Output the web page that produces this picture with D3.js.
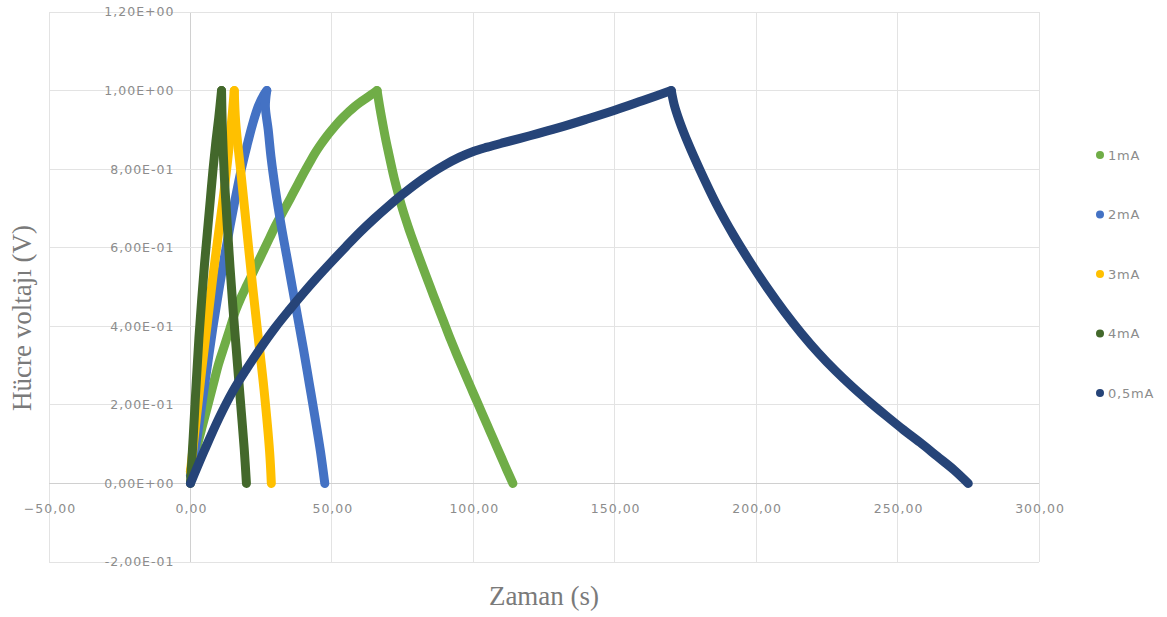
<!DOCTYPE html>
<html><head><meta charset="utf-8">
<script src="https://cdn.jsdelivr.net/npm/d3@7"></script>
<style>
html,body{margin:0;padding:0;background:#fff;}
svg{display:block;}
</style></head>
<body>
<svg id="chart" width="1167" height="617"></svg>
<script>
// ---- data ----
const seriesNames = ["1mA", "2mA", "3mA", "4mA", "0,5mA"];
const seriesColors = ["#70AD47", "#4472C4", "#FFC000", "#43682B", "#264478"];

const data1mA = [[0,0.03],[2,0.085],[4,0.14],[6,0.195],[8,0.25],[10,0.305],[12,0.35],[14,0.395],[16,0.44],[18,0.475],[20,0.505],[22,0.535],[24,0.565],[26,0.595],[28,0.625],[30,0.655],[32,0.682],[34,0.708],[36,0.735],[38,0.762],[40,0.789],[42,0.815],[44,0.84],[46,0.862],[48,0.882],[50,0.9],[52,0.917],[54,0.932],[56,0.946],[58,0.959],[60,0.97],[62,0.98],[64,0.99],[66,1.0],
  [67,0.955],[68,0.915],[69,0.877],[70,0.843],[71,0.81],[72,0.778],[73,0.75],[74,0.723],[75,0.698],[76,0.675],[77,0.653],[78,0.632],[80,0.592],[82,0.553],[84,0.515],[86,0.477],[88,0.44],[90,0.403],[92,0.366],[94,0.331],[96,0.297],[98,0.263],[100,0.23],[102,0.197],[104,0.164],[106,0.131],[108,0.098],[110,0.065],[112,0.032],[114,0.0]];
const data2mA = [[0,0.02],[2,0.1],[4,0.2],[6,0.3],[8,0.4],[10,0.49],[12,0.575],[14,0.655],[16,0.73],[18,0.8],[20,0.86],[22,0.915],[24,0.96],[26,0.99],[27,1.0],
  [26.5,0.96],[27.5,0.9],[28.5,0.83],[30,0.75],[32,0.66],[34,0.58],[36,0.5],[38,0.42],[40,0.34],[42,0.255],[44,0.17],[46,0.08],[47.5,0.0]];
const data3mA = [[0,0.03],[2,0.16],[4,0.29],[6,0.41],[8,0.53],[10,0.64],[12,0.75],[14,0.88],[15.5,1.0],
  [16,0.92],[18,0.78],[20,0.64],[22,0.5],[24,0.37],[26,0.24],[28,0.08],[28.6,0.0]];
const data4mA = [[0,0.0],[1,0.12],[2,0.25],[3,0.37],[4,0.47],[5,0.56],[6,0.64],[7,0.72],[8,0.8],[9,0.87],[10,0.93],[11,1.0],
  [11.3,0.9],[12,0.78],[13,0.66],[14,0.55],[15,0.45],[16,0.36],[17,0.27],[18,0.18],[19,0.09],[19.8,0.0]];
const data05mA = [[0,0.0],[5,0.085],[10,0.165],[15,0.235],[20,0.293],[25,0.347],[30,0.397],[35,0.442],[40,0.485],[45,0.526],[50,0.565],[55,0.603],[60,0.64],[65,0.674],[70,0.706],[75,0.736],[80,0.764],[85,0.789],[90,0.811],[95,0.83],[100,0.845],[105,0.856],[110,0.866],[120,0.885],[130,0.905],[140,0.927],[150,0.95],[160,0.975],[170,1.0],
  [171,0.965],[173,0.92],[176,0.865],[180,0.8],[186,0.71],[192,0.632],[198,0.562],[204,0.497],[210,0.437],[216,0.382],[222,0.332],[228,0.287],[234,0.246],[240,0.208],[246,0.172],[252,0.137],[258,0.104],[264,0.069],[270,0.034],[275,0.0]];
const seriesData = [data1mA, data2mA, data3mA, data4mA, data05mA];

const xTicks = [-50, 0, 50, 100, 150, 200, 250, 300];
const yTicks = [-0.2, 0, 0.2, 0.4, 0.6, 0.8, 1.0, 1.2];
const xTitle = "Zaman (s)";
const yTitle = "Hücre voltajı (V)";

// ---- layout ----
const svg = d3.select("#chart");
const x = d3.scaleLinear().domain([-50, 300]).range([49, 1039]);
const y = d3.scaleLinear().domain([-0.2, 1.2]).range([562, 12]);

const fmtX = v => d3.format(".2f")(v).replace(".", ",");
const fmtY = v => {
  let s = (Math.abs(v) < 1e-12 ? 0 : v).toExponential(2);
  let [m, e] = s.split("e");
  const sign = e[0] === "-" ? "-" : "+";
  let digits = e.replace(/[+-]/, "");
  if (digits.length < 2) digits = "0" + digits;
  return m.replace(".", ",") + "E" + sign + digits;
};

// gridlines
const grid = svg.append("g");
grid.selectAll("line.v").data(xTicks).join("line")
  .attr("x1", d => x(d)).attr("x2", d => x(d))
  .attr("y1", y(1.2)).attr("y2", y(-0.2))
  .attr("stroke", d => d === 0 ? "#d0d0d0" : "#e3e3e3").attr("stroke-width", 1)
  .attr("shape-rendering", "crispEdges");
grid.selectAll("line.h").data(yTicks).join("line")
  .attr("x1", x(-50)).attr("x2", x(300))
  .attr("y1", d => y(d)).attr("y2", d => y(d))
  .attr("stroke", d => d === 0 ? "#d0d0d0" : "#e3e3e3").attr("stroke-width", 1)
  .attr("shape-rendering", "crispEdges");

// tick labels
const tickFont = "'DejaVu Sans', sans-serif";
svg.append("g").selectAll("text").data(yTicks).join("text")
  .attr("x", x(0) - 16).attr("y", d => y(d)).attr("dy", "0.35em")
  .attr("text-anchor", "end")
  .attr("font-family", tickFont).attr("font-size", 12.5)
  .attr("letter-spacing", 1)
  .attr("fill", "#8c8c8c")
  .text(fmtY);
svg.append("g").selectAll("text").data(xTicks).join("text")
  .attr("x", d => x(d) + 1).attr("y", y(0) + 25).attr("dy", "0.35em")
  .attr("text-anchor", "middle")
  .attr("font-family", tickFont).attr("font-size", 12.5)
  .attr("letter-spacing", 1)
  .attr("fill", "#8c8c8c")
  .text(fmtX);

// series lines: split each series at its peak so the corner stays sharp,
// smooth each branch (later series drawn on top)
const line = d3.line().x(d => x(d[0])).y(d => y(d[1])).curve(d3.curveCatmullRom.alpha(0.5));
const gSeries = svg.append("g");
seriesData.forEach((arr, i) => {
  const peak = d3.maxIndex(arr, d => d[1]);
  const parts = [arr.slice(0, peak + 1), arr.slice(peak)];
  gSeries.append("g").selectAll("path").data(parts).join("path")
    .attr("d", line)
    .attr("fill", "none")
    .attr("stroke", seriesColors[i])
    .attr("stroke-width", 9)
    .attr("stroke-linecap", "round")
    .attr("stroke-linejoin", "round");
});

// axis titles
svg.append("text")
  .attr("x", x(125)).attr("y", 605)
  .attr("text-anchor", "middle")
  .attr("font-family", "'Liberation Serif', 'DejaVu Serif', serif")
  .attr("font-size", 27).attr("fill", "#7a7a7a")
  .text(xTitle);
svg.append("text")
  .attr("transform", "translate(31,318) rotate(-90)")
  .attr("text-anchor", "middle")
  .attr("font-family", "'Liberation Serif', 'DejaVu Serif', serif")
  .attr("font-size", 27).attr("fill", "#7a7a7a")
  .text(yTitle);

// legend
const legend = svg.append("g").selectAll("g").data(seriesNames).join("g")
  .attr("transform", (d, i) => `translate(1100, ${155 + i * 59.5})`);
legend.append("circle").attr("r", 4).attr("fill", (d, i) => seriesColors[i]);
legend.append("text").attr("x", 8).attr("dy", "0.35em")
  .attr("font-family", tickFont).attr("font-size", 13)
  .attr("letter-spacing", 0.8)
  .attr("fill", "#8c8c8c")
  .text(d => d);
</script>
</body></html>
